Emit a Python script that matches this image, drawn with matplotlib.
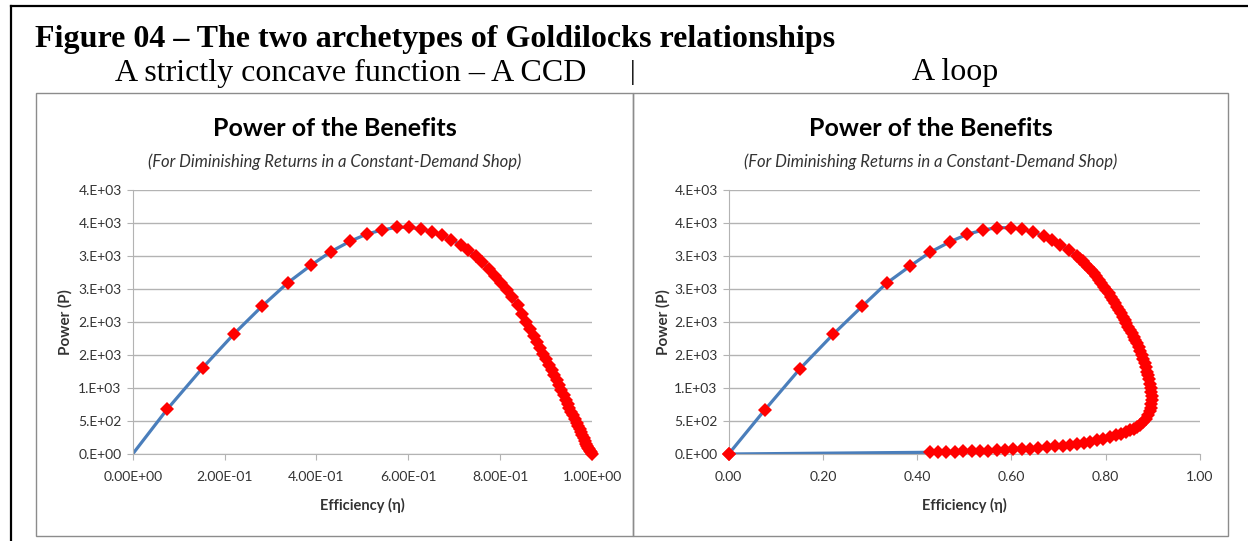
import numpy as np
import matplotlib.pyplot as plt
from matplotlib.patches import Rectangle
from matplotlib.lines import Line2D

# Left chart (strictly concave, CCD)
ccd_eta = [0.0, 0.075, 0.152, 0.221, 0.282, 0.338, 0.388, 0.432, 0.473, 0.510,
           0.543, 0.575, 0.602, 0.628, 0.652, 0.673, 0.694, 0.714, 0.731, 0.747,
           0.761, 0.776, 0.789, 0.802, 0.814, 0.826, 0.838,
           0.848, 0.857, 0.865, 0.873, 0.880, 0.887, 0.894, 0.900, 0.906, 0.912,
           0.918, 0.923, 0.928, 0.933, 0.938, 0.943, 0.947, 0.951, 0.955, 0.959,
           0.963, 0.967, 0.970, 0.973, 0.976, 0.979, 0.982, 0.985, 0.988, 0.990,
           0.992, 0.994, 0.996, 0.998, 1.000]
ccd_power = [0, 677, 1303, 1823, 2242, 2596, 2859, 3068, 3222, 3333,
             3394, 3435, 3435, 3409, 3368, 3315, 3245, 3170, 3091, 3005,
             2904, 2803, 2702, 2596, 2485, 2374, 2258,
             2119, 1994, 1892, 1791, 1702, 1609, 1517, 1437, 1355, 1272,
             1190, 1121, 1046, 971, 896, 822, 762, 703, 643, 584,
             524, 465, 420, 375, 330, 285, 241, 196, 151, 122,
             98, 74, 49, 25, 0]

# Right chart (loop)
loop_eta = [0.0, 0.076, 0.151, 0.222, 0.283, 0.335, 0.385, 0.428, 0.470, 0.506,
            0.540, 0.569, 0.598, 0.622, 0.645, 0.668, 0.686, 0.704, 0.721, 0.739,
            0.745, 0.751, 0.757, 0.763, 0.769, 0.775, 0.780, 0.786, 0.791,
            0.796, 0.801, 0.806, 0.811, 0.815, 0.820, 0.824, 0.828, 0.832, 0.836,
            0.840, 0.844, 0.848, 0.852, 0.856, 0.859, 0.863, 0.866, 0.870, 0.873,
            0.877, 0.880, 0.883, 0.886, 0.888, 0.890, 0.892, 0.894, 0.896, 0.897,
            0.898, 0.898, 0.897, 0.896, 0.893, 0.890, 0.885, 0.880, 0.873, 0.866,
            0.859, 0.852, 0.844, 0.833, 0.821, 0.809, 0.795, 0.781, 0.767, 0.753,
            0.739, 0.724, 0.710, 0.692, 0.675, 0.657, 0.639, 0.622, 0.604, 0.587,
            0.569, 0.551, 0.533, 0.516, 0.498, 0.480, 0.462, 0.445, 0.427, 0.0]
loop_power = [0, 663, 1290, 1816, 2237, 2588, 2848, 3060, 3217, 3329,
              3394, 3429, 3429, 3404, 3368, 3303, 3242, 3167, 3091, 3000,
              2962, 2922, 2881, 2837, 2790, 2742, 2690, 2638, 2585,
              2535, 2485, 2435, 2384, 2333, 2282, 2231, 2180, 2130, 2079,
              2028, 1978, 1927, 1877, 1826, 1776, 1725, 1675, 1614, 1554,
              1493, 1433, 1372, 1311, 1250, 1190, 1129, 1068, 1005, 942,
              878, 815, 758, 701, 644, 587, 536, 486, 435, 408,
              383, 358, 334, 308, 283, 258, 232, 207, 182, 167,
              154, 140, 127, 115, 104, 93, 82, 75, 69, 62,
              56, 52, 48, 45, 41, 37, 33, 30, 26, 0]

y_ticks = [0, 500, 1000, 1500, 2000, 2500, 3000, 3500, 4000]
y_labels = ['0.E+00', '5.E+02', '1.E+03', '2.E+03', '2.E+03', '3.E+03', '3.E+03', '4.E+03', '4.E+03']
x_ticks = [0, 0.2, 0.4, 0.6, 0.8, 1.0]
ccd_x_labels = ['0.00E+00', '2.00E-01', '4.00E-01', '6.00E-01', '8.00E-01', '1.00E+00']
loop_x_labels = ['0.00', '0.20', '0.40', '0.60', '0.80', '1.00']

W, H = 1248, 541
sans = ['Lato', 'DejaVu Sans']
serif = ['Liberation Serif', 'DejaVu Serif']
blue = '#4a7ebb'
grid_c = '#b3b3b3'
txt_c = '#333333'


def fx(x):
    return x / W


def fy(y):
    return 1 - y / H


fig = plt.figure(figsize=(W / 100, H / 100), dpi=100)
fig.patch.set_facecolor('white')

# page frame and headings
fig.add_artist(Line2D([fx(11), 1], [fy(6), fy(6)], color='black', lw=1.6))
fig.add_artist(Line2D([fx(11), fx(11)], [fy(6), 0], color='black', lw=1.6))
fig.text(fx(35), fy(39), 'Figure 04 \u2013 The two archetypes of Goldilocks relationships',
         family=serif, weight='bold', fontsize=23, va='center', ha='left')
fig.text(fx(351), fy(73), 'A strictly concave function \u2013 A CCD',
         family=serif, fontsize=23, va='center', ha='center')
fig.text(fx(633), fy(73), '|', family=serif, fontsize=20, va='center', ha='center')
fig.text(fx(955), fy(73), 'A loop', family=serif, fontsize=23, va='center', ha='center')

panels = [
    dict(x0=36, x1=633, ax0=132.7, ax1=592, eta=ccd_eta, p=ccd_power,
         xl=ccd_x_labels, ylab_x=65, start=1),
    dict(x0=633, x1=1228, ax0=728.7, ax1=1200, eta=loop_eta, p=loop_power,
         xl=loop_x_labels, ylab_x=663, start=0),
]

for pn in panels:
    fig.add_artist(Rectangle((fx(pn['x0']), fy(536)), fx(pn['x1'] - pn['x0']), (536 - 93) / H,
                             transform=fig.transFigure, fill=False, ec='#8c8c8c', lw=1))
    cx = (pn['x0'] + pn['x1']) / 2
    fig.text(fx(cx), fy(128), 'Power of the Benefits', family=sans, weight='bold',
             fontsize=18, ha='center', va='center', color='black')
    fig.text(fx(cx), fy(162), '(For Diminishing Returns in a Constant-Demand Shop)',
             family=sans, style='italic', fontsize=12, ha='center', va='center', color=txt_c)

    ax = fig.add_axes([fx(pn['ax0']), fy(454), fx(pn['ax1'] - pn['ax0']), (454 - 190) / H])
    ax.plot(pn['eta'], pn['p'], color=blue, lw=2.3, zorder=2)
    ax.plot(pn['eta'][pn['start']:], pn['p'][pn['start']:], ls='none', marker='D',
            ms=7, mfc='red', mec='red', mew=0, zorder=3, clip_on=False)
    ax.set_xlim(0, 1.0)
    ax.set_ylim(0, 4000)
    ax.set_yticks(y_ticks)
    ax.set_yticklabels(y_labels)
    ax.set_xticks(x_ticks)
    ax.set_xticklabels(pn['xl'])
    ax.yaxis.grid(True, color=grid_c, lw=1)
    ax.set_axisbelow(True)
    for s in ['top', 'right']:
        ax.spines[s].set_visible(False)
    for s in ['left', 'bottom']:
        ax.spines[s].set_color(grid_c)
    ax.tick_params(axis='both', colors=grid_c, labelcolor=txt_c, labelsize=10, length=4)
    ax.tick_params(axis='x', pad=8)
    ax.tick_params(axis='y', pad=4)
    for lab in ax.get_xticklabels() + ax.get_yticklabels():
        lab.set_family(sans)
    fig.text(fx((pn['ax0'] + pn['ax1']) / 2), fy(505), 'Efficiency (\u03b7)', family=sans,
             weight='bold', fontsize=10.5, ha='center', va='center', color=txt_c)
    fig.text(fx(pn['ylab_x']), fy(322), 'Power (P)', family=sans, weight='bold',
             fontsize=11, ha='center', va='center', rotation=90, color=txt_c)

fig.savefig('out.png', dpi=100, facecolor='white')
